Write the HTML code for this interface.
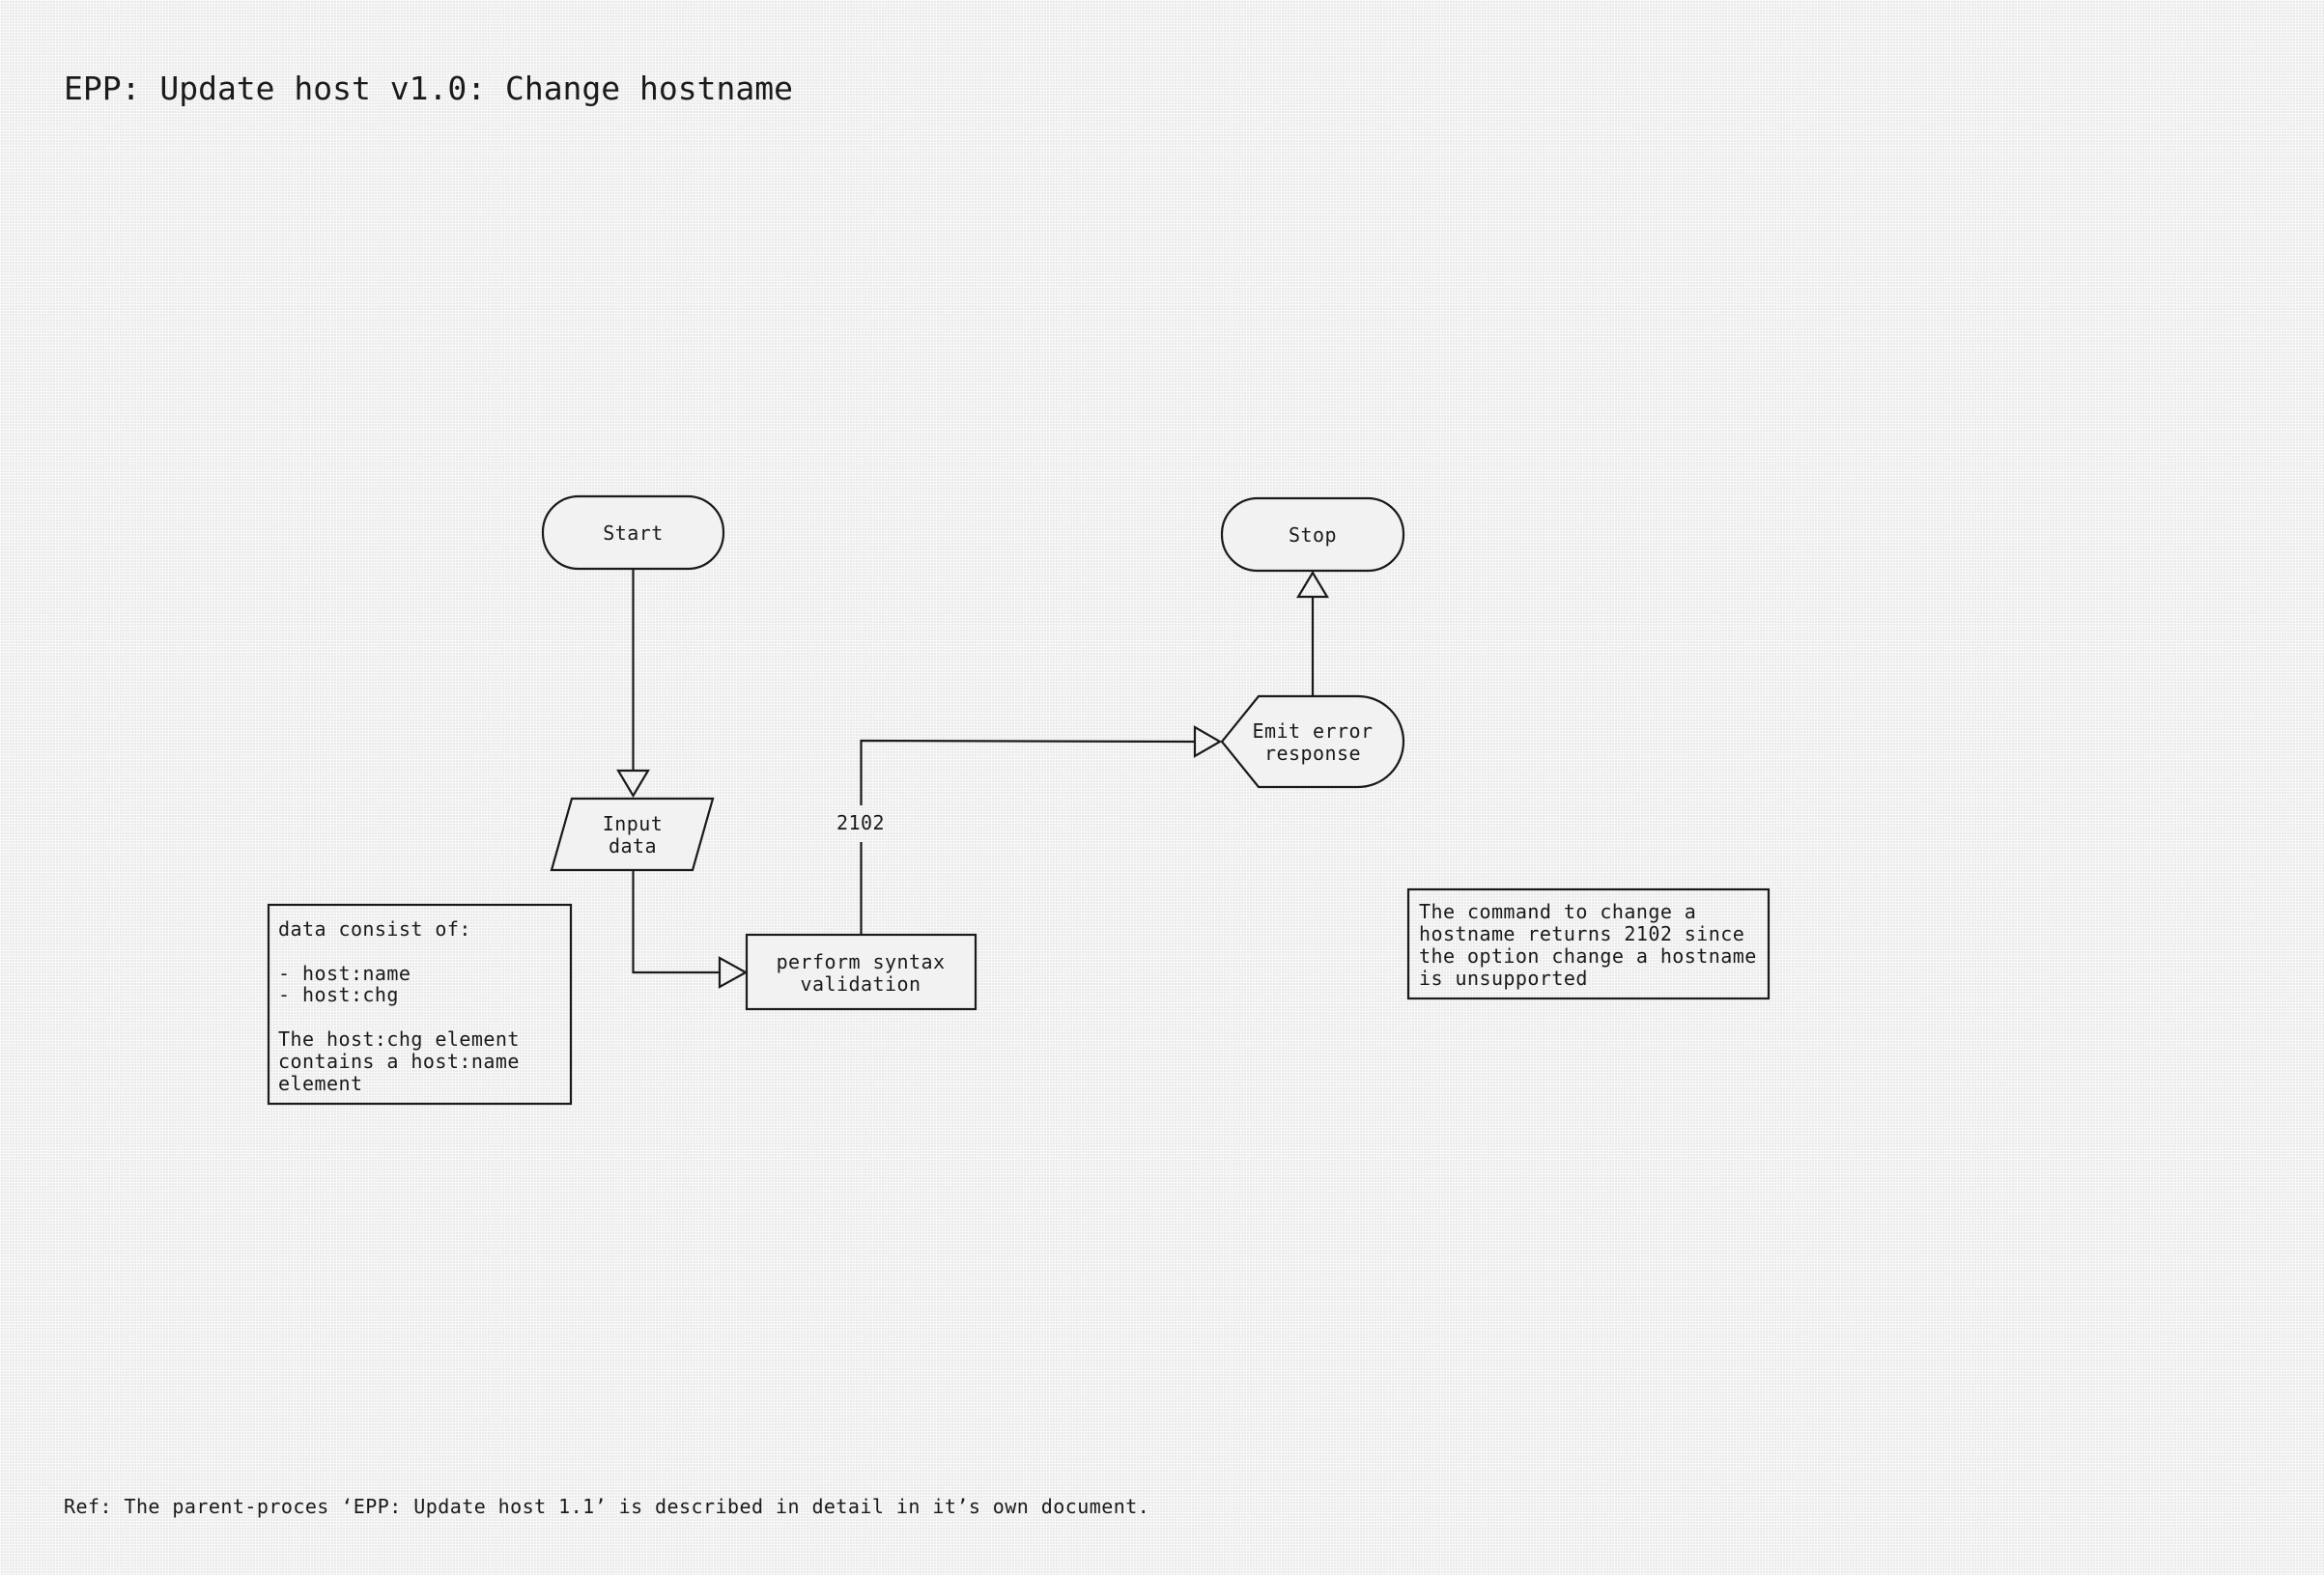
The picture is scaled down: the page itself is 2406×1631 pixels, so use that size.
<!DOCTYPE html>
<html><head><meta charset="utf-8"><style>
html,body{margin:0;padding:0;}
body{width:2406px;height:1631px;overflow:hidden;background:#ebebeb;
background-image:linear-gradient(90deg,rgba(255,255,255,.55) 1px,transparent 1px),linear-gradient(rgba(255,255,255,.55) 1px,transparent 1px);background-size:3px 3px;}
svg{position:absolute;left:0;top:0;}
text{font-family:"DejaVu Sans Mono","Liberation Mono",monospace;fill:#1a1a1a;font-size:20px;letter-spacing:0.45px;}
</style></head><body>
<svg width="2406" height="1631" viewBox="0 0 2406 1631">
<g fill="none" stroke="#1a1a1a" stroke-width="2.2">
<rect x="562" y="514" width="187" height="75" rx="37" ry="37" fill="#f2f2f2"/>
<rect x="1265" y="516" width="188" height="75" rx="37" ry="37" fill="#f2f2f2"/>
<polygon points="592,827 738,827 717,901 571,901" fill="#f2f2f2"/>
<rect x="773" y="968" width="237" height="77" fill="#f2f2f2"/>
<path d="M1265,768 L1303,721 L1406,721 A47,47 0 0 1 1453,768 A47,47 0 0 1 1406,815 L1303,815 Z" fill="#f2f2f2"/>
<rect x="278" y="937" width="313" height="206"/>
<rect x="1458" y="921" width="373" height="113"/>
<line x1="655.5" y1="589" x2="655.5" y2="798"/>
<polygon points="640,798 671,798 655.5,824"/>
<polyline points="655.5,901 655.5,1007 745,1007"/>
<polygon points="745,992 745,1022 772,1007"/>
<line x1="891.5" y1="968" x2="891.5" y2="872"/>
<polyline points="891.5,834 891.5,767 1237,768"/>
<polygon points="1237,753 1237,783 1263,768"/>
<line x1="1359" y1="721" x2="1359" y2="618"/>
<polygon points="1344,618 1374,618 1359,593"/>
</g>
<text x="66" y="103" style="font-size:33px;letter-spacing:0">EPP: Update host v1.0: Change hostname</text>
<g text-anchor="middle">
<text x="655.5" y="559">Start</text>
<text x="1359" y="561">Stop</text>
<text x="655" y="860">Input</text>
<text x="655" y="883">data</text>
<text x="891" y="1003">perform syntax</text>
<text x="891" y="1026">validation</text>
<text x="1359" y="764">Emit error</text>
<text x="1359" y="787">response</text>
<text x="891" y="859">2102</text>
</g>
<g>
<text x="288" y="969">data consist of:</text>
<text x="288" y="1015">- host:name</text>
<text x="288" y="1037">- host:chg</text>
<text x="288" y="1083">The host:chg element</text>
<text x="288" y="1106">contains a host:name</text>
<text x="288" y="1129">element</text>
<text x="1469" y="951">The command to change a</text>
<text x="1469" y="974">hostname returns 2102 since</text>
<text x="1469" y="997">the option change a hostname</text>
<text x="1469" y="1020">is unsupported</text>
<text x="66" y="1567">Ref: The parent-proces ‘EPP: Update host 1.1’ is described in detail in it’s own document.</text>
</g>
</svg>
</body></html>
